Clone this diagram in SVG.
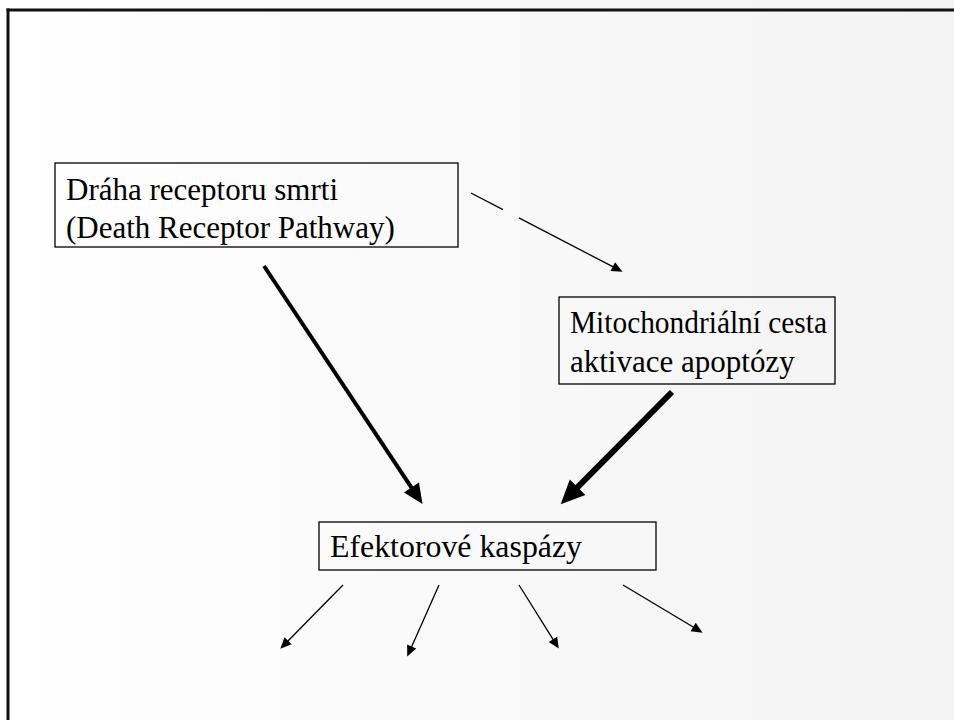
<svg xmlns="http://www.w3.org/2000/svg" width="954" height="720" viewBox="0 0 954 720">
  <defs>
    <linearGradient id="bg" x1="0" y1="0" x2="954" y2="0" gradientUnits="userSpaceOnUse">
      <stop offset="0" stop-color="#ffffff"/>
      <stop offset="1" stop-color="#f3f3f3"/>
    </linearGradient>
    <marker id="headThin" markerUnits="userSpaceOnUse" markerWidth="14" markerHeight="12" refX="0.5" refY="5" orient="auto" overflow="visible">
      <path d="M0,0 L11,5 L0,10 z" fill="#000"/>
    </marker>
    <marker id="headMid" markerUnits="userSpaceOnUse" markerWidth="24" markerHeight="20" refX="1" refY="9" orient="auto" overflow="visible">
      <path d="M0,0 L20,9 L0,18 z" fill="#000"/>
    </marker>
    <marker id="headBig" markerUnits="userSpaceOnUse" markerWidth="28" markerHeight="26" refX="1" refY="11" orient="auto" overflow="visible">
      <path d="M0,0 L24,11 L0,22 z" fill="#000"/>
    </marker>
  </defs>
  <style>
    .box { fill: none; stroke: #000; stroke-width: 1.3; }
    .label { font-family: "Liberation Serif", "Times New Roman", serif; font-size: 31px; fill: #000; }
    .thin { fill: none; stroke: #000; stroke-width: 1.3; marker-end: url(#headThin); }
    .frame { stroke: #111; stroke-width: 3; }
  </style>

  <rect x="0" y="0" width="954" height="720" fill="url(#bg)"/>

  <!-- slide frame (top and left edges) -->
  <line class="frame" x1="6.5" y1="10" x2="954" y2="10"/>
  <line class="frame" x1="8" y1="8.5" x2="8" y2="720"/>

  <g id="death-receptor">
    <rect class="box" x="55" y="163" width="403" height="84"/>
    <text class="label" x="66" y="200">Dráha receptoru smrti</text>
    <text class="label" x="66" y="238">(Death Receptor Pathway)</text>
  </g>

  <g id="mitochondrial">
    <rect class="box" x="559" y="297" width="276" height="87"/>
    <text class="label" x="570" y="333" textLength="257" lengthAdjust="spacingAndGlyphs">Mitochondriální cesta</text>
    <text class="label" x="570" y="372">aktivace apoptózy</text>
  </g>

  <g id="effector-caspases">
    <rect class="box" x="319" y="522" width="337" height="48"/>
    <text class="label" x="330" y="557" textLength="252" lengthAdjust="spacingAndGlyphs">Efektorové kaspázy</text>
  </g>

  <g id="connectors">
    <!-- death receptor to mitochondrial pathway (dashed) -->
    <line class="thin" x1="471" y1="193" x2="613.2" y2="266.9" stroke-dasharray="36 18 400"/>
    <!-- both pathways converge on effector caspases -->
    <line x1="264" y1="266" x2="412" y2="488.3" stroke="#000" stroke-width="4" marker-end="url(#headMid)"/>
    <line x1="672" y1="392" x2="576.9" y2="487.9" stroke="#000" stroke-width="6" marker-end="url(#headBig)"/>
    <!-- downstream effects -->
    <line class="thin" x1="343" y1="585" x2="287.7" y2="641.2"/>
    <line class="thin" x1="439" y1="585" x2="411.5" y2="646.9"/>
    <line class="thin" x1="519" y1="585" x2="553.2" y2="639.7"/>
    <line class="thin" x1="623" y1="585" x2="693.6" y2="627.3"/>
  </g>
</svg>
